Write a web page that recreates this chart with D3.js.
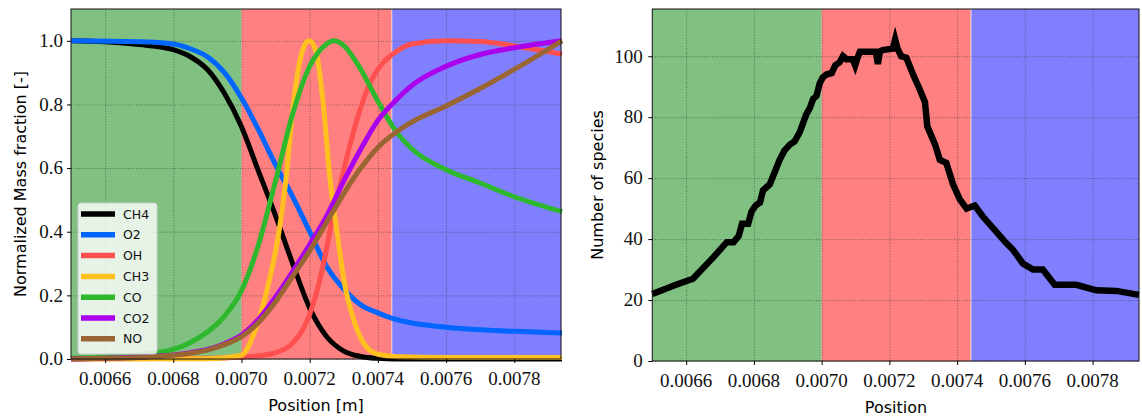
<!DOCTYPE html>
<html>
<head>
<meta charset="utf-8">
<script src="https://cdn.jsdelivr.net/npm/d3@7"></script>
<style>
  body { margin: 0; background: #fff; }
</style>
</head>
<body>
<div id="grafico"></div>
<script>
// Datos (posicion [m], valor normalizado)
var ch4 = [[0.00650,1.0],[0.00660,0.997],[0.00670,0.988],[0.00680,0.972],[0.00685,0.95],[0.00690,0.91],
  [0.00695,0.835],[0.00700,0.73],[0.00705,0.59],[0.00710,0.45],[0.00715,0.30],[0.00720,0.16],
  [0.00725,0.07],[0.00730,0.025],[0.00735,0.008],[0.00740,0.002],[0.00745,0.0],[0.00794,0.0]];
var o2 = [[0.00650,1.0],[0.00670,0.997],[0.00680,0.99],[0.00685,0.975],[0.00690,0.95],[0.00695,0.90],
  [0.00700,0.82],[0.00705,0.72],[0.00710,0.61],[0.00715,0.51],[0.00720,0.40],[0.00725,0.29],
  [0.00730,0.22],[0.00735,0.17],[0.00740,0.145],[0.00745,0.125],[0.00750,0.113],[0.00760,0.10],
  [0.00770,0.092],[0.00780,0.087],[0.00794,0.082]];
var oh = [[0.00650,0.0],[0.00690,0.002],[0.00700,0.006],[0.00705,0.01],[0.00710,0.02],[0.00715,0.05],
  [0.00720,0.14],[0.00723,0.25],[0.00725,0.35],[0.00727,0.46],[0.00729,0.55],[0.00733,0.72],
  [0.00737,0.85],[0.00741,0.925],[0.00744,0.955],[0.00750,0.99],[0.00760,1.0],[0.00770,0.998],
  [0.00780,0.984],[0.00794,0.958]];
var ch3 = [[0.00650,0.0],[0.00690,0.001],[0.00700,0.012],[0.00704,0.09],[0.00708,0.24],[0.00711,0.40],
  [0.00713,0.56],[0.00715,0.78],[0.00717,0.93],[0.00719,0.995],[0.00720,1.0],[0.00722,0.96],
  [0.00724,0.80],[0.00726,0.56],[0.00728,0.40],[0.00730,0.25],[0.00733,0.12],[0.00736,0.047],
  [0.00740,0.015],[0.00746,0.007],[0.00760,0.005],[0.00794,0.005]];
var co = [[0.00650,0.002],[0.00660,0.006],[0.00670,0.014],[0.00680,0.03],[0.00685,0.052],[0.00690,0.085],
  [0.00695,0.135],[0.00700,0.215],[0.00705,0.36],[0.00710,0.56],[0.00715,0.77],[0.00720,0.92],
  [0.00725,0.99],[0.00727,1.0],[0.00730,0.985],[0.00735,0.91],[0.00740,0.81],[0.00745,0.72],
  [0.00750,0.66],[0.00760,0.595],[0.00770,0.553],[0.00780,0.51],[0.00794,0.463]];
var co2 = [[0.00650,0.0],[0.00660,0.002],[0.00670,0.006],[0.00675,0.009],[0.00680,0.013],[0.00685,0.02],
  [0.00690,0.03],[0.00695,0.048],[0.00700,0.075],[0.00705,0.125],[0.00710,0.195],[0.00715,0.275],
  [0.00720,0.36],[0.00725,0.45],[0.00730,0.56],[0.00735,0.66],[0.00740,0.75],[0.00745,0.81],
  [0.00750,0.86],[0.00760,0.92],[0.00770,0.957],[0.00780,0.978],[0.00794,1.0]];
var no = [[0.00650,0.0],[0.00660,0.002],[0.00670,0.005],[0.00675,0.008],[0.00680,0.012],[0.00685,0.018],
  [0.00690,0.028],[0.00695,0.045],[0.00700,0.07],[0.00705,0.115],[0.00710,0.18],[0.00715,0.26],
  [0.00720,0.34],[0.00725,0.43],[0.00730,0.52],[0.00735,0.60],[0.00740,0.665],[0.00745,0.71],
  [0.00750,0.745],[0.00760,0.795],[0.00770,0.85],[0.00780,0.91],[0.00794,1.0]];

var especies = ["CH4","O2","OH","CH3","CO","CO2","NO"];
var colores = ["#000000","#0066ff","#ff5050","#ffc020","#2eb82e","#aa00ee","#996633"];
var series = [ch4, o2, oh, ch3, co, co2, no];

// Numero de especies (posicion, numero)
var nSpecies = [[0.00650,22],[0.00657,25],[0.00662,27],[0.00668,34],[0.00672,39],[0.00674,39],
  [0.006755,41],[0.006765,45],[0.006783,45],[0.006793,49],[0.006805,51],[0.006818,52],[0.006827,56],
  [0.006837,57],[0.006847,58],[0.006876,66],[0.006890,69],[0.006906,71],[0.006920,72],[0.006935,75],
  [0.006955,81],[0.006965,83],[0.006975,86],[0.006985,87],[0.006994,91],[0.007003,93],[0.007014,94],
  [0.007030,94.5],[0.007040,97],[0.007053,98],[0.007063,100],[0.007073,99],[0.007092,99],[0.007099,97],
  [0.007106,99.5],[0.007113,101.5],[0.007142,101.5],[0.007160,101.5],[0.007166,97.5],[0.007172,101.5],
  [0.007180,102],[0.007210,102.5],[0.007217,105.5],[0.007224,102.5],[0.007235,100],[0.007250,99.5],
  [0.007270,94],[0.007290,89],[0.007305,85],[0.007312,77],[0.007335,71],[0.007349,66],[0.007368,65],
  [0.007388,58],[0.007408,53],[0.007428,50],[0.007452,51],[0.007476,47.4],[0.007545,38.7],
  [0.007565,36.5],[0.007594,32],[0.007624,30],[0.007653,30],[0.007688,25],[0.007752,25],
  [0.007811,23.2],[0.00787,23],[0.007937,21.7]];

// Zonas (inicio, fin)
var zonas = [[0.0065,0.0070],[0.0070,0.00744],[0.007442,0.00794]];
var coloresZona = ["#80c080","#ff8080","#8080ff"];

var xTicks = [0.0066,0.0068,0.0070,0.0072,0.0074,0.0076,0.0078];
var yTicksIzq = [0,0.2,0.4,0.6,0.8,1.0];
var yTicksDer = [0,20,40,60,80,100];

var fuenteNum = "font-family: 'Liberation Serif', 'DejaVu Serif', serif; font-size: 19px; fill: #111;";

var svg = d3.select("#grafico")
  .append("svg")
    .attr("width", 1142)
    .attr("height", 419);

function panel(left, right, top, bottom, yDomain, yTicks, yFmt, yPad) {
  var x = d3.scaleLinear().domain([0.0065, 0.007937]).range([left, right]);
  var y = d3.scaleLinear().domain(yDomain).range([bottom, top]);
  var g = svg.append("g");

  // Zonas coloreadas
  g.selectAll("rect.zona")
    .data(zonas)
    .enter()
    .append("rect")
      .attr("x", function(d){ return x(d[0]); })
      .attr("y", top)
      .attr("width", function(d){ return Math.min(x(d[1]), right) - x(d[0]); })
      .attr("height", bottom - top)
      .style("fill", function(d,i){ return coloresZona[i]; });

  // Rejilla
  g.append("g")
    .attr("transform", "translate(0," + bottom + ")")
    .call(d3.axisBottom(x).tickValues(xTicks).tickSize(-(bottom - top)).tickFormat(""))
    .call(function(s){ s.select(".domain").remove(); });
  g.append("g")
    .attr("transform", "translate(" + left + ",0)")
    .call(d3.axisLeft(y).tickValues(yTicks).tickSize(-(right - left)).tickFormat(""))
    .call(function(s){ s.select(".domain").remove(); });
  g.selectAll(".tick line")
    .attr("stroke", "#333")
    .attr("stroke-opacity", 0.6)
    .attr("stroke-width", 0.9)
    .attr("stroke-dasharray", "1,1.6");

  return {g: g, x: x, y: y, left: left, right: right, top: top, bottom: bottom,
          yTicks: yTicks, yFmt: yFmt, yPad: yPad};
}

function ejes(p) {
  // marcas de los ejes
  var ax = p.g.append("g")
    .attr("transform", "translate(0," + p.bottom + ")")
    .call(d3.axisBottom(p.x).tickValues(xTicks).tickSize(4).tickFormat(""));
  var ay = p.g.append("g")
    .attr("transform", "translate(" + p.left + ",0)")
    .call(d3.axisLeft(p.y).tickValues(p.yTicks).tickSize(4).tickFormat(""));
  [ax, ay].forEach(function(a){
    a.select(".domain").remove();
    a.selectAll(".tick line").attr("stroke", "#000");
  });

  // etiquetas numericas
  var fx = d3.format(".4f");
  p.g.append("g").selectAll("text")
    .data(xTicks)
    .enter()
    .append("text")
      .attr("x", function(d){ return p.x(d); })
      .attr("y", p.bottom + 26)
      .attr("text-anchor", "middle")
      .attr("style", fuenteNum)
      .text(function(d){ return fx(d); });
  p.g.append("g").selectAll("text")
    .data(p.yTicks)
    .enter()
    .append("text")
      .attr("x", p.left - 4 - p.yPad)
      .attr("y", function(d){ return p.y(d) + 6.3; })
      .attr("text-anchor", "end")
      .attr("style", fuenteNum)
      .text(function(d){ return p.yFmt(d); });

  p.g.append("rect")
    .attr("x", p.left).attr("y", p.top)
    .attr("width", p.right - p.left).attr("height", p.bottom - p.top)
    .style("fill", "none")
    .style("stroke", "#111")
    .style("stroke-width", 1);
}

// Grafico izquierdo
var pA = panel(71, 561, 9, 359, [0, 1.1], yTicksIzq, d3.format(".1f"), 4);
var linea = d3.line()
  .x(function(d){ return pA.x(d[0]); })
  .y(function(d){ return pA.y(d[1]); })
  .curve(d3.curveMonotoneX);
series.forEach(function(s, i){
  pA.g.append("path")
    .datum(s)
    .attr("fill", "none")
    .attr("stroke", colores[i])
    .attr("stroke-width", 5)
    .attr("d", linea);
});
ejes(pA);

// Leyenda
var leg = pA.g.append("g");
leg.append("rect")
  .attr("x", 78).attr("y", 203).attr("width", 79).attr("height", 151)
  .attr("rx", 3)
  .style("fill", "#fff").style("fill-opacity", 0.8)
  .style("stroke", "#d0d0d0");
especies.forEach(function(e, i){
  var yy = 214 + i * 20.8;
  leg.append("line")
    .attr("x1", 81).attr("x2", 115).attr("y1", yy).attr("y2", yy)
    .attr("stroke", colores[i]).attr("stroke-width", 5.5);
  leg.append("text")
    .attr("x", 123).attr("y", yy).attr("dy", "0.36em")
    .text(e)
    .style("font-family", "'DejaVu Sans', sans-serif")
    .style("font-size", "12.5px")
    .style("fill", "#111");
});

svg.append("text")
  .attr("text-anchor", "middle")
  .attr("x", 316).attr("y", 411)
  .text("Position [m]")
  .style("font-family", "'DejaVu Sans', sans-serif")
  .style("font-size", "16px");
svg.append("text")
  .attr("text-anchor", "middle")
  .attr("transform", "rotate(-90)")
  .attr("x", -184).attr("y", 26)
  .text("Normalized Mass fraction [-]")
  .style("font-family", "'DejaVu Sans', sans-serif")
  .style("font-size", "16px");

// Grafico derecho
var pB = panel(652.3, 1139, 9, 361, [0, 115.5], yTicksDer, d3.format("d"), 5.5);
pB.g.append("path")
  .datum(nSpecies)
  .attr("fill", "none")
  .attr("stroke", "#000")
  .attr("stroke-width", 6.5)
  .attr("stroke-linejoin", "miter")
  .attr("stroke-miterlimit", 4)
  .attr("d", d3.line()
    .x(function(d){ return pB.x(d[0]); })
    .y(function(d){ return pB.y(d[1]); }));
ejes(pB);

svg.append("text")
  .attr("text-anchor", "middle")
  .attr("x", 896).attr("y", 413)
  .text("Position")
  .style("font-family", "'DejaVu Sans', sans-serif")
  .style("font-size", "16px");
svg.append("text")
  .attr("text-anchor", "middle")
  .attr("transform", "rotate(-90)")
  .attr("x", -185).attr("y", 603)
  .text("Number of species")
  .style("font-family", "'DejaVu Sans', sans-serif")
  .style("font-size", "16px");
</script>
</body>
</html>
